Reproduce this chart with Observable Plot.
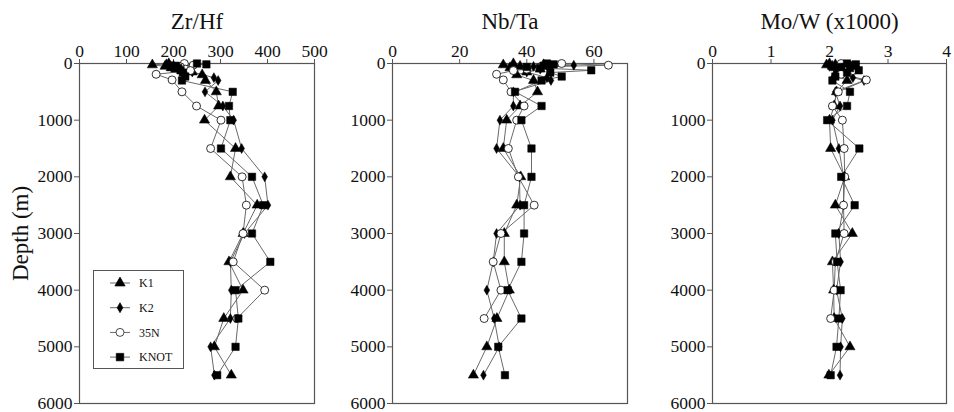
<!DOCTYPE html>
<html><head><meta charset="utf-8">
<script src="https://cdn.jsdelivr.net/npm/d3@7"></script>
<script src="https://cdn.jsdelivr.net/npm/@observablehq/plot@0.6"></script>
<style>
body{margin:0;background:#fff;font-family:"Liberation Serif","Times New Roman",serif;}
#wrap{position:relative;width:954px;height:412px;display:flex;}
#wrap svg{display:block;}
#legend{position:absolute;left:93px;top:270px;}
</style></head><body>
<div id="wrap"></div>
<script>
// ---- data ----
const stations = ["K1", "K2", "35N", "KNOT"];
const depthK1   = [5, 25, 50, 75, 100, 150, 200, 300, 500, 750, 1000, 1500, 2000, 2500, 3000, 3500, 4000, 4500, 5000, 5500];
const depthK2   = [5, 30, 50, 75, 100, 150, 250, 300, 500, 750, 1000, 1500, 2000, 2500, 3000, 3500, 4000, 4500, 5000, 5500];
const depth35N  = [0, 30, 60, 100, 125, 190, 290, 500, 750, 1000, 1500, 2000, 2500, 3000, 3500, 4000, 4500];
const depthKNOT = [0, 15, 40, 60, 80, 120, 160, 230, 300, 500, 750, 1000, 1500, 2000, 2500, 3000, 3500, 4000, 4500, 5000, 5500];

const zrhfK1   = [190, 155, 182, 195, 205, 240, 261, 268, 291, 296, 266, 332, 321, 378, 348, 318, 348, 307, 287, 323];
const zrhfK2   = [185, 200, 195, 210, 220, 240, 286, 295, 267, 305, 328, 345, 394, 401, 351, 321, 323, 321, 279, 287];
const zrhf35N  = [223, 242, 215, 225, 236, 163, 197, 218, 249, 301, 279, 346, 355, 348, 327, 394, 335];
const zrhfKNOT = [250, 270, 205, 195, 210, 215, 220, 225, 218, 326, 318, 321, 301, 367, 391, 367, 406, 332, 338, 332, 293];

const nbtaK1   = [36, 33, 38, 35, 44, 40, 37, 42, 43.2, 38, 34, 33, 38.2, 37, 33.3, 33.3, 34.8, 31.1, 28.1, 24.1];
const nbtaK2   = [45, 54, 42, 47, 44, 40, 46, 47.2, 36, 36, 32, 31, 37.8, 38, 31, 30, 28.1, 30.3, 31.8, 27.1];
const nbta35N  = [50.4, 64.3, 44, 40, 36, 31, 33, 35.3, 39.2, 37, 34.5, 37.5, 42.2, 32.3, 30, 32.3, 27.3];
const nbtaKNOT = [46, 48, 45, 40, 44, 59.2, 47, 50.4, 44.4, 36.5, 44.4, 38.4, 41.4, 41.4, 39.2, 39.2, 38.4, 34.3, 38.4, 31.5, 33.5];

const mowK1   = [2.0, 1.95, 2.05, 2.1, 2.15, 2.2, 2.1, 2.3, 2.12, 2.08, 2.0, 2.02, 2.26, 2.1, 2.39, 2.05, 2.07, 2.08, 2.35, 1.99];
const mowK2   = [2.1, 2.2, 2.0, 2.25, 2.3, 2.15, 2.4, 2.59, 2.1, 2.18, 2.05, 2.16, 2.24, 2.24, 2.16, 2.19, 2.12, 2.22, 2.19, 2.18];
const mow35N  = [2.2, 2.35, 2.25, 2.3, 2.4, 2.2, 2.63, 2.15, 2.05, 2.22, 2.25, 2.26, 2.24, 2.25, 2.1, 2.08, 2.02];
const mowKNOT = [2.3, 2.45, 2.4, 2.2, 2.35, 2.5, 2.3, 2.1, 2.05, 2.35, 2.3, 1.96, 2.51, 2.2, 2.43, 2.1, 2.13, 2.19, 2.16, 2.12, 2.02];

const panelTitles = ["Zr/Hf", "Nb/Ta", "Mo/W (x1000)"];
const xDomains = [[0, 500], [0, 70], [0, 4]];
const xTicks = [[0, 100, 200, 300, 400, 500], [0, 20, 40, 60], [0, 1, 2, 3, 4]];
const yTicks = [0, 1000, 2000, 3000, 4000, 5000, 6000];
const yLabel = "Depth (m)";

// ---- build tables ----
const depths = {K1: depthK1, K2: depthK2, "35N": depth35N, KNOT: depthKNOT};
const values = [
  {K1: zrhfK1, K2: zrhfK2, "35N": zrhf35N, KNOT: zrhfKNOT},
  {K1: nbtaK1, K2: nbtaK2, "35N": nbta35N, KNOT: nbtaKNOT},
  {K1: mowK1, K2: mowK2, "35N": mow35N, KNOT: mowKNOT}
];
const style = {
  K1:   {symbol: "triangle", fill: "black", r: 3.8},
  K2:   {symbol: "diamond",  fill: "black", r: 3.0},
  "35N":{symbol: "circle",   fill: "white", r: 4.0},
  KNOT: {symbol: "square",   fill: "black", r: 4.2}
};
const FONT = '"Liberation Serif","Times New Roman",serif';
const layout = [
  {width: 328, marginLeft: 79, marginRight: 14},
  {width: 308, marginLeft: 64, marginRight: 9},
  {width: 318, marginLeft: 76, marginRight: 8}
];

const wrap = document.getElementById("wrap");
panelTitles.forEach((title, i) => {
  const rows = [];
  stations.forEach(s => depths[s].forEach((d, j) => rows.push({station: s, depth: d, v: values[i][s][j]})));
  const marks = [
    Plot.frame({stroke: "#555", strokeWidth: 1.2}),
    Plot.axisX({anchor: "top", ticks: xTicks[i], tickSize: 5, tickPadding: 2, fontSize: 17.5, fontFamily: FONT, fill: "#111", label: null, tickFormat: d => String(d), stroke: "#555"}),
    Plot.axisY({anchor: "left", ticks: yTicks, tickSize: 5, tickPadding: 2, fontSize: 17.5, fontFamily: FONT, fill: "#111", label: null, tickFormat: d => String(d), stroke: "#555"}),
    Plot.text([title], {frameAnchor: "top", lineAnchor: "middle", dy: -42, fontSize: 23, fontFamily: FONT, fill: "#111"}),
    Plot.line(rows, {x: "v", y: "depth", z: "station", stroke: "#6a6a6a", strokeWidth: 1})
  ];
  stations.forEach(s => {
    marks.push(Plot.dot(rows.filter(r => r.station === s), {
      x: "v", y: "depth", symbol: () => style[s].symbol, r: style[s].r,
      fill: style[s].fill, stroke: "black", strokeWidth: s === "35N" ? 0.8 : 0.5
    }));
  });
  if (i === 0) marks.push(Plot.text([yLabel], {frameAnchor: "left", textAnchor: "middle", lineAnchor: "middle", rotate: -90, dx: -59, fontSize: 23, fontFamily: FONT, fill: "#111"}));
  const chart = Plot.plot({
    height: 412, marginTop: 63, marginBottom: 9, ...layout[i],
    style: {fontFamily: FONT, fontSize: "17.5px", color: "#111", background: "white"},
    x: {domain: xDomains[i]},
    y: {domain: [0, 6000], reverse: true},
    symbol: {type: "identity"},
    marks
  });
  wrap.appendChild(chart);
});

// ---- legend (overlay) ----
const lg = d3.select("#wrap").append("svg").attr("id", "legend").attr("width", 92).attr("height", 100)
  .style("font-family", FONT);
lg.append("rect").attr("x", 0.5).attr("y", 0.5).attr("width", 90).attr("height", 98).attr("fill", "white").attr("stroke", "#555");
stations.forEach((s, k) => {
  const cy = 13 + k * 24.7;
  lg.append("line").attr("x1", 17).attr("x2", 37).attr("y1", cy).attr("y2", cy).attr("stroke", "#6a6a6a");
  const sym = d3.symbol().type({triangle: d3.symbolTriangle, diamond: d3.symbolDiamond, circle: d3.symbolCircle, square: d3.symbolSquare}[style[s].symbol])
    .size(Math.PI * style[s].r * style[s].r);
  lg.append("path").attr("d", sym()).attr("transform", `translate(27,${cy})`).attr("fill", style[s].fill).attr("stroke", "black").attr("stroke-width", 0.7);
  lg.append("text").attr("x", 46).attr("y", cy).attr("dy", "0.35em").attr("font-size", 12).attr("fill", "#111").text(s);
});
</script>
</body></html>
